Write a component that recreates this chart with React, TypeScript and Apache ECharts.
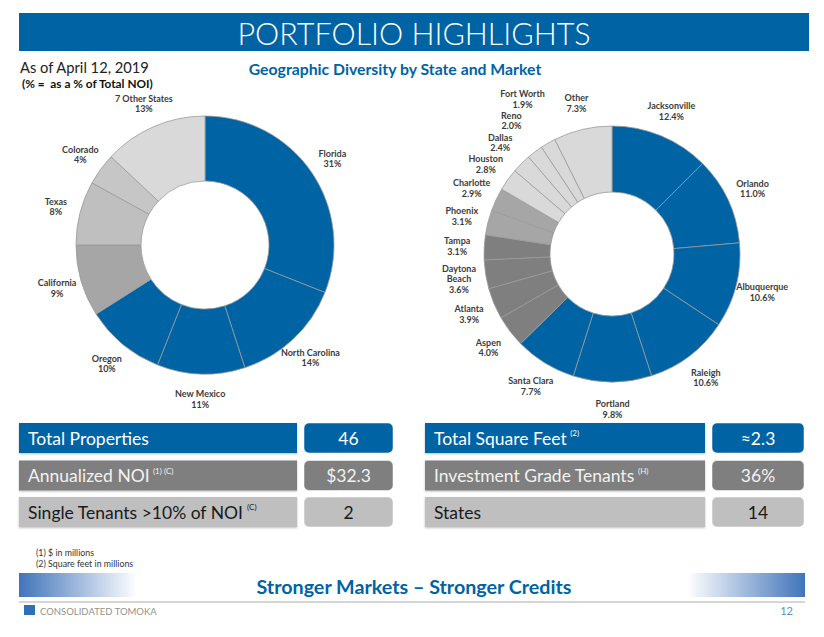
import React, { useEffect, useRef } from "react";
import * as echarts from "echarts";

// ---------- data ----------
const stateNames = ["Florida", "North Carolina", "New Mexico", "Oregon", "California", "Texas", "Colorado", "7 Other States"];
const stateShares = [31, 14, 11, 10, 9, 8, 4, 13];
const stateColors = ["#0063a3", "#0063a3", "#0063a3", "#0063a3", "#a6a6a6", "#bfbfbf", "#c6c6c6", "#d9d9d9"];

const marketNames = [
  "Jacksonville", "Orlando", "Albuquerque", "Raleigh", "Portland", "Santa Clara", "Aspen", "Atlanta",
  "Daytona Beach", "Tampa", "Phoenix", "Charlotte", "Houston", "Dallas", "Reno", "Fort Worth", "Other",
];
const marketShares = [12.4, 11.0, 10.6, 10.6, 9.8, 7.7, 4.0, 3.9, 3.6, 3.1, 3.1, 2.9, 2.8, 2.4, 2.0, 1.9, 7.3];
const marketColors = [
  "#0063a3", "#0063a3", "#0063a3", "#0063a3", "#0063a3", "#0063a3",
  "#7f7f7f", "#7f7f7f", "#7f7f7f", "#7f7f7f",
  "#a6a6a6", "#a6a6a6",
  "#d9d9d9", "#d9d9d9", "#d9d9d9", "#d9d9d9", "#d9d9d9",
];

const leftRowLabels = ["Total Properties", "Annualized NOI", "Single Tenants >10% of NOI"];
const leftRowNotes = ["", "(1) (C)", "(C)"];
const leftRowValues = ["46", "$32.3", "2"];
const rightRowLabels = ["Total Square Feet", "Investment Grade Tenants", "States"];
const rightRowNotes = ["(2)", "(H)", ""];
const rightRowValues = ["\u22482.3", "36%", "14"];

const footnotes = ["(1) $ in millions", "(2) Square feet in millions"];

// ---------- styles ----------
const BLUE = "#0063a3";
const FONT = "Lato, 'Open Sans', sans-serif";
const rowFills = [BLUE, "#7f7f7f", "#bfbfbf"];
const rowText = ["#ffffff", "#f2f2f2", "#1a1a1a"];

function pieLabel() {
  return {
    show: true,
    position: "outside",
    color: "#3c3c3c",
    fontFamily: FONT,
    fontWeight: "bold",
    fontSize: 9,
    lineHeight: 10.5,
    align: "center",
  };
}

type Box = { i: number; x: number; y: number; w: number; h: number };

export default function App() {
  const ref = useRef<HTMLDivElement>(null);

  useEffect(() => {
    if (!ref.current) return;
    const chart = echarts.init(ref.current, undefined, { renderer: "svg" });

    // centre each label at the end of the (hidden) radial label line,
    // pushing it further out along its own radius if it hits an earlier label
    const placed: Record<number, Box[]> = {};
    const labelCenterLayout = (p: any) => {
      const pts = p.labelLinePoints;
      if (!pts || pts.length < 2) return {};
      const w = p.labelRect.width;
      const h = p.labelRect.height;
      let ux = pts[1][0] - pts[0][0];
      let uy = pts[1][1] - pts[0][1];
      const len = Math.hypot(ux, uy) || 1;
      ux /= len;
      uy /= len;
      let x = pts[1][0];
      let y = pts[1][1];
      const list = (placed[p.seriesIndex] || []).filter((b) => b.i !== p.dataIndex);
      const hits = () =>
        list.some((b) => {
          if (b.i >= p.dataIndex) return false;
          const ox = Math.min(x + w / 2, b.x + b.w / 2) - Math.max(x - w / 2, b.x - b.w / 2);
          const oy = Math.min(y + h / 2, b.y + b.h / 2) - Math.max(y - h / 2, b.y - b.h / 2);
          return ox > 0 && oy > 0;
        });
      for (let k = 0; k < 40 && hits(); k++) {
        x += ux;
        y += uy;
      }
      list.push({ i: p.dataIndex, x, y, w, h });
      placed[p.seriesIndex] = list;
      return { x, y, align: "center", verticalAlign: "middle" };
    };

    const graphics: any[] = [];
    // header
    graphics.push({ type: "rect", shape: { x: 19, y: 13, width: 790, height: 38 }, style: { fill: BLUE } });
    graphics.push({
      type: "text",
      style: { text: "PORTFOLIO HIGHLIGHTS", x: 414, y: 32.5, align: "center", verticalAlign: "middle", fill: "#ffffff", fontFamily: FONT, fontWeight: 300, fontSize: 30.5 },
    });
    graphics.push({
      type: "text",
      style: { text: "As of April 12, 2019", x: 20, y: 67, verticalAlign: "middle", fill: "#222222", fontFamily: FONT, fontSize: 14.7 },
    });
    graphics.push({
      type: "text",
      style: { text: "(% =  as a % of Total NOI)", x: 22, y: 83, verticalAlign: "middle", fill: "#111111", fontFamily: FONT, fontWeight: "bold", fontSize: 11.8 },
    });
    graphics.push({
      type: "text",
      style: { text: "Geographic Diversity by State and Market", x: 395, y: 68, align: "center", verticalAlign: "middle", fill: BLUE, fontFamily: FONT, fontWeight: "bold", fontSize: 15.8 },
    });

    // table
    const rowYs = [423, 460.5, 497];
    const rowH = 30;
    const addSide = (labels: string[], notes: string[], values: string[], lx: number, lw: number, vx: number, vw: number) => {
      labels.forEach((lab, i) => {
        const y = rowYs[i];
        graphics.push({ type: "rect", shape: { x: lx, y, width: lw, height: rowH }, style: { fill: rowFills[i], shadowBlur: 2, shadowColor: "rgba(0,0,0,0.25)", shadowOffsetY: 1 } });
        graphics.push({ type: "rect", shape: { x: vx, y, width: vw, height: rowH, r: 5 }, style: { fill: rowFills[i], stroke: "rgba(255,255,255,0.5)", lineWidth: 1 } });
        const note = notes[i];
        graphics.push({
          type: "text",
          style: {
            text: note ? `{t|${lab}} {s|${note}}` : `{t|${lab}}`,
            x: lx + 9, y: y + rowH / 2, verticalAlign: "middle",
            rich: {
              t: { fill: rowText[i], fontFamily: FONT, fontSize: 17.5 },
              s: { fill: rowText[i], fontFamily: FONT, fontSize: 8, padding: [0, 0, 10, 0] },
            },
          },
        });
        graphics.push({
          type: "text",
          style: { text: values[i], x: vx + vw / 2, y: y + rowH / 2, align: "center", verticalAlign: "middle", fill: rowText[i], fontFamily: FONT, fontSize: 17.5 },
        });
      });
    };
    addSide(leftRowLabels, leftRowNotes, leftRowValues, 19, 278, 304, 89);
    addSide(rightRowLabels, rightRowNotes, rightRowValues, 425, 280, 712, 92);

    // footnotes
    footnotes.forEach((f, i) => {
      graphics.push({ type: "text", style: { text: f, x: 36, y: 552 + i * 11.5, verticalAlign: "middle", fill: "#333333", fontFamily: FONT, fontSize: 8.8 } });
    });

    // bottom band
    graphics.push({
      type: "rect", shape: { x: 19, y: 573, width: 118, height: 24 },
      style: { fill: new echarts.graphic.LinearGradient(0, 0, 1, 0, [{ offset: 0, color: "#4074ba" }, { offset: 1, color: "#ffffff" }]) },
    });
    graphics.push({
      type: "rect", shape: { x: 687, y: 573, width: 118, height: 24 },
      style: { fill: new echarts.graphic.LinearGradient(0, 0, 1, 0, [{ offset: 0, color: "#ffffff" }, { offset: 1, color: "#4074ba" }]) },
    });
    graphics.push({
      type: "text",
      style: { text: "Stronger Markets \u2013 Stronger Credits", x: 414, y: 586, align: "center", verticalAlign: "middle", fill: BLUE, fontFamily: FONT, fontWeight: "bold", fontSize: 19.7 },
    });
    graphics.push({ type: "line", shape: { x1: 19, y1: 602, x2: 805, y2: 602 }, style: { stroke: "#c8c8c8", lineWidth: 1.5 } });
    graphics.push({ type: "rect", shape: { x: 24, y: 605, width: 11, height: 10 }, style: { fill: "#2f6fb3" } });
    graphics.push({
      type: "text",
      style: { text: "CONSOLIDATED TOMOKA", x: 40, y: 611, verticalAlign: "middle", fill: "#939393", fontFamily: FONT, fontSize: 9.5 },
    });
    graphics.push({
      type: "text",
      style: { text: "12", x: 793, y: 610, align: "right", verticalAlign: "middle", fill: "#5b8fc7", fontFamily: FONT, fontSize: 11 },
    });

    chart.setOption({
      animation: false,
      graphic: graphics,
      series: [
        {
          type: "pie",
          center: [205, 245],
          radius: [64, 129],
          startAngle: 90,
          clockwise: true,
          silent: true,
          avoidLabelOverlap: false,
          itemStyle: { borderColor: "#9a9a9a", borderWidth: 0.8 },
          label: { ...pieLabel(), formatter: (p: any) => `${p.name}\n${p.value}%` },
          labelLine: { show: true, length: 25, length2: 0, lineStyle: { opacity: 0 } },
          labelLayout: labelCenterLayout,
          data: stateNames.map((n, i) => ({ name: n, value: stateShares[i], itemStyle: { color: stateColors[i] } })),
        },
        {
          type: "pie",
          center: [612, 254],
          radius: [62, 128],
          startAngle: 90,
          clockwise: true,
          silent: true,
          avoidLabelOverlap: false,
          itemStyle: { borderColor: "#9a9a9a", borderWidth: 0.8 },
          label: { ...pieLabel(), formatter: (p: any) => `${String(p.name).replace(" Beach", "\nBeach")}\n${Number(p.value).toFixed(1)}%` },
          labelLine: { show: true, length: 27, length2: 0, lineStyle: { opacity: 0 } },
          labelLayout: labelCenterLayout,
          data: marketNames.map((n, i) => ({ name: n, value: marketShares[i], itemStyle: { color: marketColors[i] } })),
        },
      ],
    });

    return () => chart.dispose();
  }, []);

  return <div ref={ref} style={{ position: "absolute", left: 0, top: 0, width: 824, height: 637, background: "#ffffff" }} />;
}
